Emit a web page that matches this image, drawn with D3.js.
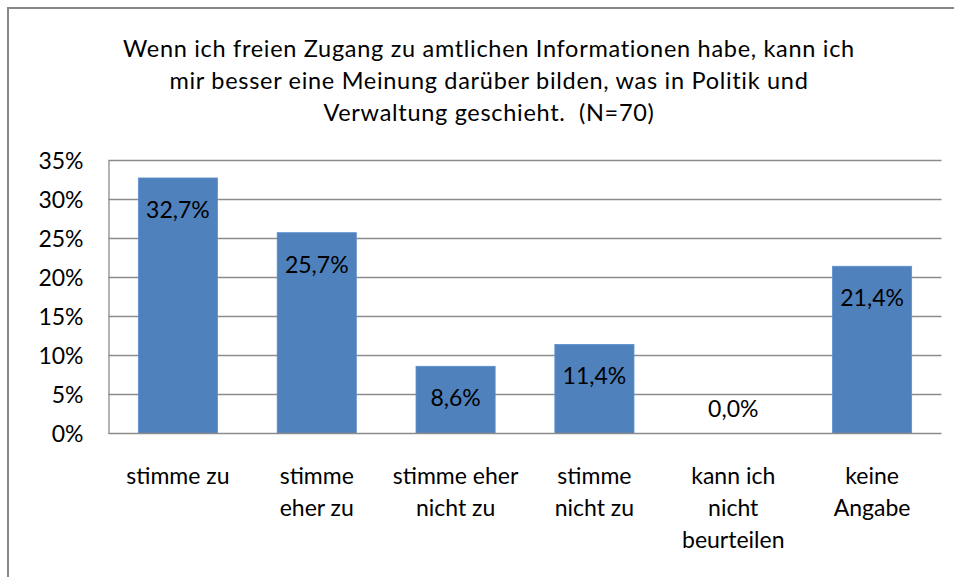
<!DOCTYPE html>
<html>
    <head>
        <meta charset="utf-8">
        <style>
            body { margin: 0; background: #fff; }
            text { font-family: Lato, "Liberation Sans", sans-serif; fill: #000; }
            .title { white-space: pre; letter-spacing: 0.7px; }
        </style>
        <script src="https://cdnjs.cloudflare.com/ajax/libs/d3/7.0.4/d3.min.js"></script>
    </head>
    <body>
        <div id="chart"></div>
        <script>
            const titleLines = [
                "Wenn ich freien Zugang zu amtlichen Informationen habe, kann ich",
                "mir besser eine Meinung darüber bilden, was in Politik und",
                "Verwaltung geschieht.  (N=70)"
            ];
            const categories = [
                ["stimme zu"],
                ["stimme", "eher zu"],
                ["stimme eher", "nicht zu"],
                ["stimme", "nicht zu"],
                ["kann ich", "nicht", "beurteilen"],
                ["keine", "Angabe"]
            ];
            const values = [32.7, 25.7, 8.6, 11.4, 0.0, 21.4];
            const yTicks = [0, 5, 10, 15, 20, 25, 30, 35];

            const w = 954, h = 577;
            const plotLeft = 108.5, plotRight = 941.5, plotTop = 160, plotBottom = 433.5;

            const svg = d3.select("#chart").append("svg")
                .attr("width", w)
                .attr("height", h);

            // frame (only top and left edges visible)
            svg.append("path")
                .attr("d", "M8,577V8H954")
                .attr("fill", "none")
                .attr("stroke", "#878787")
                .attr("stroke-width", 2);

            svg.append("g").selectAll("text")
                .data(titleLines)
                .enter()
                .append("text")
                .attr("class", "title")
                .attr("x", 489)
                .attr("y", (d, i) => 56.5 + i * 32)
                .attr("text-anchor", "middle")
                .attr("font-size", 23.5)
                .text(d => d);

            const xScale = d3.scaleBand()
                .domain(d3.range(categories.length))
                .range([plotLeft, plotRight])
                .paddingInner(0.43)
                .paddingOuter(0.215);

            const yScale = d3.scaleLinear()
                .domain([0, 35])
                .range([plotBottom, plotTop]);

            // gridlines
            svg.append("g")
                .selectAll("line")
                .data(yTicks.slice(1))
                .enter()
                .append("line")
                .attr("x1", plotLeft)
                .attr("x2", plotRight)
                .attr("y1", d => Math.round(yScale(d)) + 0.5)
                .attr("y2", d => Math.round(yScale(d)) + 0.5)
                .attr("stroke", "#8c8c8c")
                .attr("stroke-width", 1.3);

            const yAxis = d3.axisLeft(yScale)
                .tickValues(yTicks)
                .tickFormat(d => d + "%")
                .tickSize(0)
                .tickPadding(25);

            const gy = svg.append("g")
                .attr("transform", "translate(" + plotLeft + ",0)")
                .call(yAxis);
            gy.select(".domain").attr("stroke", "#8c8c8c").attr("stroke-width", 1.3);
            gy.selectAll("text")
                .attr("font-size", 23)
                .attr("font-family", "Lato, 'Liberation Sans', sans-serif")
                .attr("fill", "#000")
                .attr("dy", "0.36em");

            svg.selectAll("rect.bar")
                .data(values)
                .enter()
                .append("rect")
                .attr("class", "bar")
                .attr("x", (d, i) => xScale(i))
                .attr("y", d => yScale(d))
                .attr("width", xScale.bandwidth())
                .attr("height", d => yScale(0) - yScale(d))
                .attr("fill", "#4f81bd")
                .attr("stroke", "#5b8fcf")
                .attr("stroke-width", 0.8);

            // bottom axis line
            svg.append("line")
                .attr("x1", plotLeft)
                .attr("x2", plotRight)
                .attr("y1", plotBottom)
                .attr("y2", plotBottom)
                .attr("stroke", "#8c8c8c")
                .attr("stroke-width", 1.6);

            // value labels
            svg.selectAll("text.val")
                .data(values)
                .enter()
                .append("text")
                .attr("class", "val")
                .attr("x", (d, i) => xScale(i) + xScale.bandwidth() / 2)
                .attr("y", d => d > 0 ? yScale(d) + 40 : yScale(0) - 17)
                .attr("text-anchor", "middle")
                .attr("font-size", 23)
                .text(d => d.toFixed(1).replace(".", ",") + "%");

            // category labels
            const cat = svg.append("g").selectAll("text")
                .data(categories)
                .enter()
                .append("text")
                .attr("text-anchor", "middle")
                .attr("font-size", 23);
            cat.selectAll("tspan")
                .data((d, i) => d.map(t => ({ t: t, i: i })))
                .enter()
                .append("tspan")
                .attr("x", d => xScale(d.i) + xScale.bandwidth() / 2)
                .attr("y", (d, j) => 484 + j * 32)
                .text(d => d.t);
        </script>
    </body>
</html>
